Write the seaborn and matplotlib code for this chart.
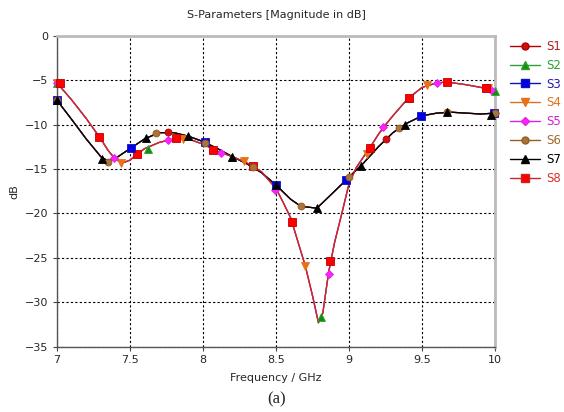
import numpy as np
import matplotlib
matplotlib.use("Agg")
import matplotlib.pyplot as plt
from matplotlib.lines import Line2D
import seaborn as sns

sns.set_style("white")
plt.rcParams['font.family'] = ['DejaVu Sans']

# two traces that the eight S-parameters fall on
red_freq = [7.0, 7.1, 7.2, 7.3, 7.35, 7.4, 7.45, 7.5, 7.55, 7.6, 7.7, 7.8, 7.9, 8.0,
            8.1, 8.2, 8.3, 8.4, 8.5, 8.55, 8.6, 8.65, 8.7, 8.75, 8.79, 8.82, 8.86,
            8.9, 8.95, 9.0, 9.05, 9.1, 9.15, 9.2, 9.25, 9.3, 9.4, 9.5, 9.6, 9.67,
            9.8, 9.9, 10.0]
red_db = [-5.3, -7.2, -9.3, -11.6, -12.9, -13.9, -14.3, -14.0, -13.3, -12.7, -12.0,
          -11.6, -11.6, -12.2, -13.0, -13.6, -14.3, -15.3, -17.2, -18.8, -20.5, -23.2,
          -25.9, -29.3, -32.3, -31.2, -26.6, -23.3, -20.0, -16.6, -14.8, -13.6, -12.4,
          -11.1, -10.0, -9.0, -7.1, -5.8, -5.3, -5.2, -5.5, -5.8, -6.2]
blk_freq = [7.0, 7.1, 7.2, 7.3, 7.35, 7.4, 7.5, 7.6, 7.7, 7.8, 7.9, 8.0, 8.1, 8.2,
            8.3, 8.4, 8.5, 8.6, 8.67, 8.78, 8.9, 9.0, 9.1, 9.2, 9.3, 9.4, 9.5, 9.6,
            9.7, 9.8, 9.9, 10.0]
blk_db = [-7.25, -9.4, -11.6, -13.6, -14.1, -13.8, -12.7, -11.6, -10.9, -10.9, -11.3,
          -11.9, -12.7, -13.6, -14.4, -15.4, -16.8, -18.4, -19.2, -19.4, -17.5, -15.9,
          -14.3, -12.5, -10.9, -9.8, -9.0, -8.7, -8.6, -8.7, -8.8, -8.7]

# marker positions of each series
s1_f = [7.0, 7.76, 8.5, 9.25, 10.0]
s1_db = [-7.25, -10.8, -16.8, -11.6, -8.7]
s2_f = [7.0, 7.62, 8.2, 8.81, 9.41, 10.0]
s2_db = [-5.3, -12.7, -13.6, -31.7, -7.0, -6.2]
s3_f = [7.0, 7.51, 8.01, 8.5, 8.98, 9.49, 9.99]
s3_db = [-7.25, -12.6, -11.9, -16.8, -16.2, -9.0, -8.7]
s4_f = [7.0, 7.44, 7.86, 8.28, 8.70, 9.12, 9.53, 9.95]
s4_db = [-5.3, -14.3, -11.6, -14.1, -25.9, -13.3, -5.5, -5.9]
s5_f = [7.0, 7.39, 7.76, 8.12, 8.49, 8.86, 9.23, 9.60, 9.97]
s5_db = [-5.3, -13.8, -11.7, -13.2, -17.4, -26.8, -10.3, -5.3, -6.1]
s6_f = [7.0, 7.35, 7.68, 8.01, 8.34, 8.67, 9.0, 9.34, 9.67, 10.0]
s6_db = [-7.25, -14.2, -10.9, -12.1, -14.8, -19.2, -15.9, -10.35, -8.6, -8.7]
s7_f = [7.0, 7.31, 7.61, 7.90, 8.2, 8.5, 8.78, 9.08, 9.38, 9.67, 9.97]
s7_db = [-7.25, -13.9, -11.5, -11.3, -13.6, -16.8, -19.4, -14.6, -10.0, -8.6, -8.9]
s8_f = [7.02, 7.29, 7.55, 7.815, 8.07, 8.34, 8.61, 8.87, 9.14, 9.41, 9.67, 9.94]
s8_db = [-5.3, -11.4, -13.3, -11.55, -12.9, -14.7, -21.0, -25.4, -12.6, -7.0, -5.2, -5.9]

labels = ["S1", "S2", "S3", "S4", "S5", "S6", "S7", "S8"]
line_cols = ["#b00000", "#30a030", "#1010c0", "#e07020", "#e020e0", "#9a5a20", "#000000", "#c82828"]
face_cols = ["#d01010", "#109010", "#0000e0", "#f07010", "#ff20ff", "#a8743c", "#000000", "#ff0000"]
text_cols = ["#b02020", "#30a030", "#2020b0", "#e07020", "#d020d0", "#a06a30", "#000000", "#e03030"]
mk = ["o", "^", "s", "v", "D", "o", "^", "s"]
msz = [5, 6, 5.5, 6, 4.5, 5, 6, 6]
marks = [(s1_f, s1_db), (s2_f, s2_db), (s3_f, s3_db), (s4_f, s4_db),
         (s5_f, s5_db), (s6_f, s6_db), (s7_f, s7_db), (s8_f, s8_db)]
on_red = [False, True, False, True, True, False, False, True]

fig = plt.figure(figsize=(5.64, 4.12), dpi=100)
ax = fig.add_axes([0.101, 0.1585, 0.777, 0.7545])

# lines first (red group, then black group on top)
order = [1, 3, 4, 7, 0, 2, 5, 6]
for i in order:
    fx, fy = (red_freq, red_db) if on_red[i] else (blk_freq, blk_db)
    sns.lineplot(x=fx, y=fy, ax=ax, color=line_cols[i], lw=0.9, sort=False,
                 estimator=None, zorder=2 + 0.01 * i)

for i in order:
    fx, fy = marks[i]
    ax.plot(fx, fy, ls="none", marker=mk[i], ms=msz[i], mfc=face_cols[i],
            mec=line_cols[i] if i != 7 else "#c00000", mew=0.6, zorder=4, clip_on=False)

ax.set_xlim(7, 10)
ax.set_ylim(-35, 0)
ax.set_xticks([7, 7.5, 8, 8.5, 9, 9.5, 10])
ax.set_xticklabels(["7", "7.5", "8", "8.5", "9", "9.5", "10"])
ax.set_yticks(np.arange(-35, 1, 5))
ax.grid(True, color="black", ls=(0, (2, 2)), lw=0.8)
ax.tick_params(axis="both", labelsize=8, direction="out", length=3, width=0.8,
               color="#444444", pad=3)
ax.tick_params(axis="both", left=True, bottom=True)
for s in ["left", "bottom"]:
    ax.spines[s].set_color("#555555")
    ax.spines[s].set_linewidth(1.0)
for s in ["top", "right"]:
    ax.spines[s].set_color("#bbbbbb")
    ax.spines[s].set_linewidth(2.0)

ax.set_title("S-Parameters [Magnitude in dB]", fontsize=8, pad=13)
ax.set_xlabel("Frequency / GHz", fontsize=8, labelpad=6)
ax.set_ylabel("dB", fontsize=8)
ax.yaxis.set_label_coords(-0.085, 0.5)

handles = [Line2D([0], [0], color=line_cols[i], lw=1, marker=mk[i], ms=msz[i],
                  mfc=face_cols[i], mec=line_cols[i]) for i in range(8)]
fig.legend(handles, labels, loc="upper left", bbox_to_anchor=(0.895, 0.915),
           frameon=False, fontsize=8.5, labelcolor=text_cols, handlelength=2.6,
           handletextpad=0.5, labelspacing=0.5, borderaxespad=0)

fig.text(0.49, 0.01, "(a)", ha="center", va="bottom", fontsize=12,
         family="Liberation Serif")

fig.savefig("out.png", dpi=100)
